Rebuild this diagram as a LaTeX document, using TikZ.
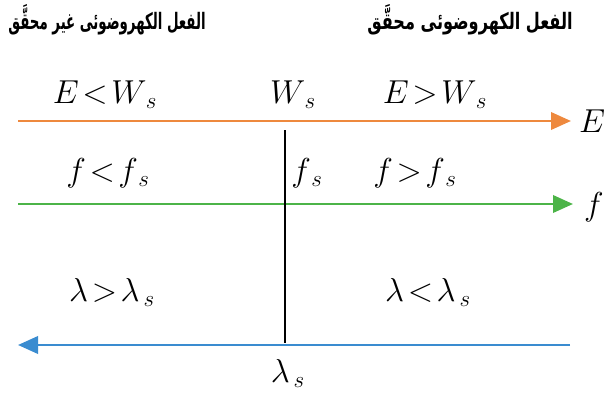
\documentclass[tikz,border=0pt]{standalone}
\usepackage{fontspec}
\usetikzlibrary{arrows.meta}
\TeXXeTstate=1
\newfontfamily\arabicfont[Script=Arabic]{DejaVu Sans}
\definecolor{axisorange}{RGB}{238,137,62}
\definecolor{axisgreen}{RGB}{76,180,72}
\definecolor{axisblue}{RGB}{58,140,208}
\tikzset{
  axisline/.style={line width=2pt,-{Triangle[length=15pt,width=13pt]}},
  rel/.style={font=\fontsize{23}{26}\selectfont},
  title/.style={font=\arabicfont\bfseries\fontsize{17}{19}\selectfont}
}
\begin{document}
\begin{tikzpicture}[x=0.75pt,y=-0.75pt]
\useasboundingbox (0,0) rectangle (608,400);
\node[title] (lefttitle) at (107,20) {\resizebox{148pt}{\height}{\beginR الفعل الكهروضوئى غير محقَّق\endR}};
\node[title] (righttitle) at (470,20) {\resizebox{154pt}{\height}{\beginR الفعل الكهروضوئى محقَّق\endR}};
\coordinate (Estart) at (18,121);
\coordinate (Eend) at (571,121);
\coordinate (fstart) at (18,204);
\coordinate (fend) at (573,204);
\coordinate (lstart) at (570,345);
\coordinate (lend) at (18,345);
\coordinate (vtop) at (285,130);
\coordinate (vbot) at (285,343);
\draw[axisline,axisorange] (Estart) -- (Eend);
\draw[axisline,axisgreen] (fstart) -- (fend);
\draw[axisline,axisblue] (lstart) -- (lend);
\draw[line width=1.6pt] (vtop) -- (vbot);
\node[rel] (Eaxis) at (592,121) {$E$};
\node[rel] (faxis) at (594,207) {$f$};
\node[rel] (Eless) at (105,95) {$E\mkern-3mu<\mkern-3mu W_{\,s}$};
\node[rel] (Ws) at (293,95) {$W_{\,s}$};
\node[rel] (Egreater) at (435,95) {$E\mkern-3mu>\mkern-3mu W_{\,s}$};
\node[rel] (fless) at (108,173) {$f\mkern-3mu<\mkern-3mu f_{\,s}$};
\node[rel] (fs) at (307,173) {$f_{\,s}$};
\node[rel] (fgreater) at (415,173) {$f\mkern-3mu>\mkern-3mu f_{\,s}$};
\node[rel] (lgreater) at (112,292) {$\lambda\mkern-3mu>\mkern-3mu\lambda_{\,s}$};
\node[rel] (lless) at (428,292) {$\lambda\mkern-3mu<\mkern-3mu\lambda_{\,s}$};
\node[rel] (ls) at (288,373) {$\lambda_{\,s}$};
\end{tikzpicture}
\end{document}
